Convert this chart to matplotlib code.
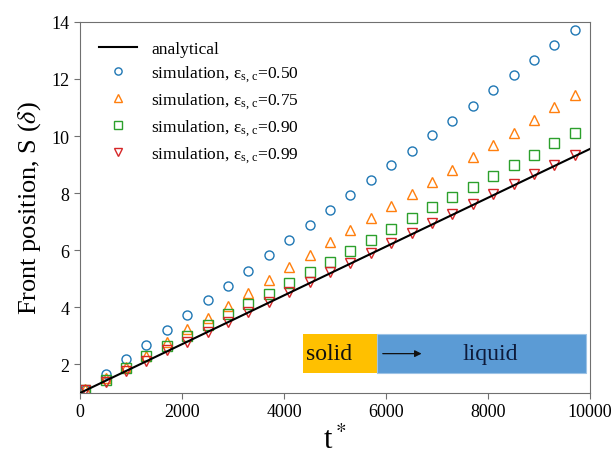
import matplotlib
matplotlib.use("Agg")
import matplotlib.pyplot as plt
from matplotlib.patches import Rectangle

plt.rcParams["font.family"] = "Liberation Serif"
plt.rcParams["mathtext.fontset"] = "stix"

# simulation sample times (t*)
t_sim = [100, 500, 900, 1300, 1700, 2100, 2500, 2900, 3300, 3700, 4100, 4500, 4900,
         5300, 5700, 6100, 6500, 6900, 7300, 7700, 8100, 8500, 8900, 9300, 9700]

s_050 = [1.12, 1.65, 2.20, 2.69, 3.21, 3.72, 4.24, 4.76, 5.26, 5.82, 6.36, 6.88, 7.42,
         7.95, 8.45, 8.98, 9.47, 10.02, 10.54, 11.06, 11.61, 12.12, 12.65, 13.20, 13.72]
s_075 = [1.14, 1.52, 1.91, 2.29, 2.77, 3.24, 3.64, 4.05, 4.51, 4.97, 5.41, 5.82, 6.28,
         6.70, 7.13, 7.55, 7.97, 8.40, 8.82, 9.26, 9.68, 10.12, 10.56, 11.00, 11.44]
s_090 = [1.12, 1.47, 1.88, 2.28, 2.64, 3.00, 3.38, 3.76, 4.13, 4.48, 4.84, 5.22, 5.60,
         5.97, 6.35, 6.73, 7.12, 7.50, 7.88, 8.20, 8.59, 8.98, 9.35, 9.74, 10.12]
s_099 = [1.10, 1.39, 1.77, 2.12, 2.49, 2.80, 3.14, 3.49, 3.84, 4.19, 4.53, 4.87, 5.22,
         5.56, 5.90, 6.25, 6.60, 6.94, 7.28, 7.63, 7.97, 8.32, 8.66, 9.00, 9.34]

# analytical front position
t_ana = [0, 10000]
s_ana = [1.0, 9.55]

series = [
    (s_050, "0.50", "o", "#1f77b4"),
    (s_075, "0.75", "^", "#ff7f0e"),
    (s_090, "0.90", "s", "#2ca02c"),
    (s_099, "0.99", "v", "#d62728"),
]

fig = plt.figure(figsize=(6.16, 4.56), dpi=100)
ax = fig.add_axes([0.13, 0.136, 0.828, 0.814])

ax.plot(t_ana, s_ana, color="black", lw=1.5, label="analytical", zorder=3)
for s, eps, mk, col in series:
    ax.plot(t_sim, s, ls="none", marker=mk, ms=6.5, mfc="none", mec=col, mew=1.0,
            label=r"simulation, $\mathregular{\epsilon_{s,\,c}}$=" + eps, zorder=2)

ax.set_xlim(0, 10000)
ax.set_ylim(1, 14)
ax.set_xticks([0, 2000, 4000, 6000, 8000, 10000])
ax.set_yticks([2, 4, 6, 8, 10, 12, 14])
ax.tick_params(labelsize=13, color="#707070", length=4)
for sp in ax.spines.values():
    sp.set_color("#707070")

ax.set_ylabel(r"Front position, S ($\delta$)", fontsize=19, labelpad=6)
ax.set_xlabel(r"t$^*$", fontsize=22, labelpad=4)

leg = ax.legend(loc="upper left", frameon=False, fontsize=12.5, handlelength=2.2,
                borderaxespad=0.7, labelspacing=0.35, markerscale=0.8)

# solid -> liquid inset
ax.add_patch(Rectangle((0.437, 0.054), 0.145, 0.105, transform=ax.transAxes,
                       facecolor="#FFC000", edgecolor="none", zorder=4))
ax.add_patch(Rectangle((0.582, 0.054), 0.410, 0.105, transform=ax.transAxes,
                       facecolor="#5B9BD5", edgecolor="#9DC3E6", lw=0.8, zorder=4))
ax.text(0.442, 0.106, "solid", transform=ax.transAxes, fontsize=17, va="center",
        ha="left", color="#111111", zorder=5)
ax.text(0.805, 0.106, "liquid", transform=ax.transAxes, fontsize=17, va="center",
        ha="center", color="#0d1a3a", zorder=5)
ax.annotate("", xy=(0.675, 0.106), xytext=(0.588, 0.106), xycoords=ax.transAxes,
            arrowprops=dict(arrowstyle="-|>", color="#111111", lw=0.9,
                            mutation_scale=10), zorder=5)

fig.savefig("out.png", dpi=100)
